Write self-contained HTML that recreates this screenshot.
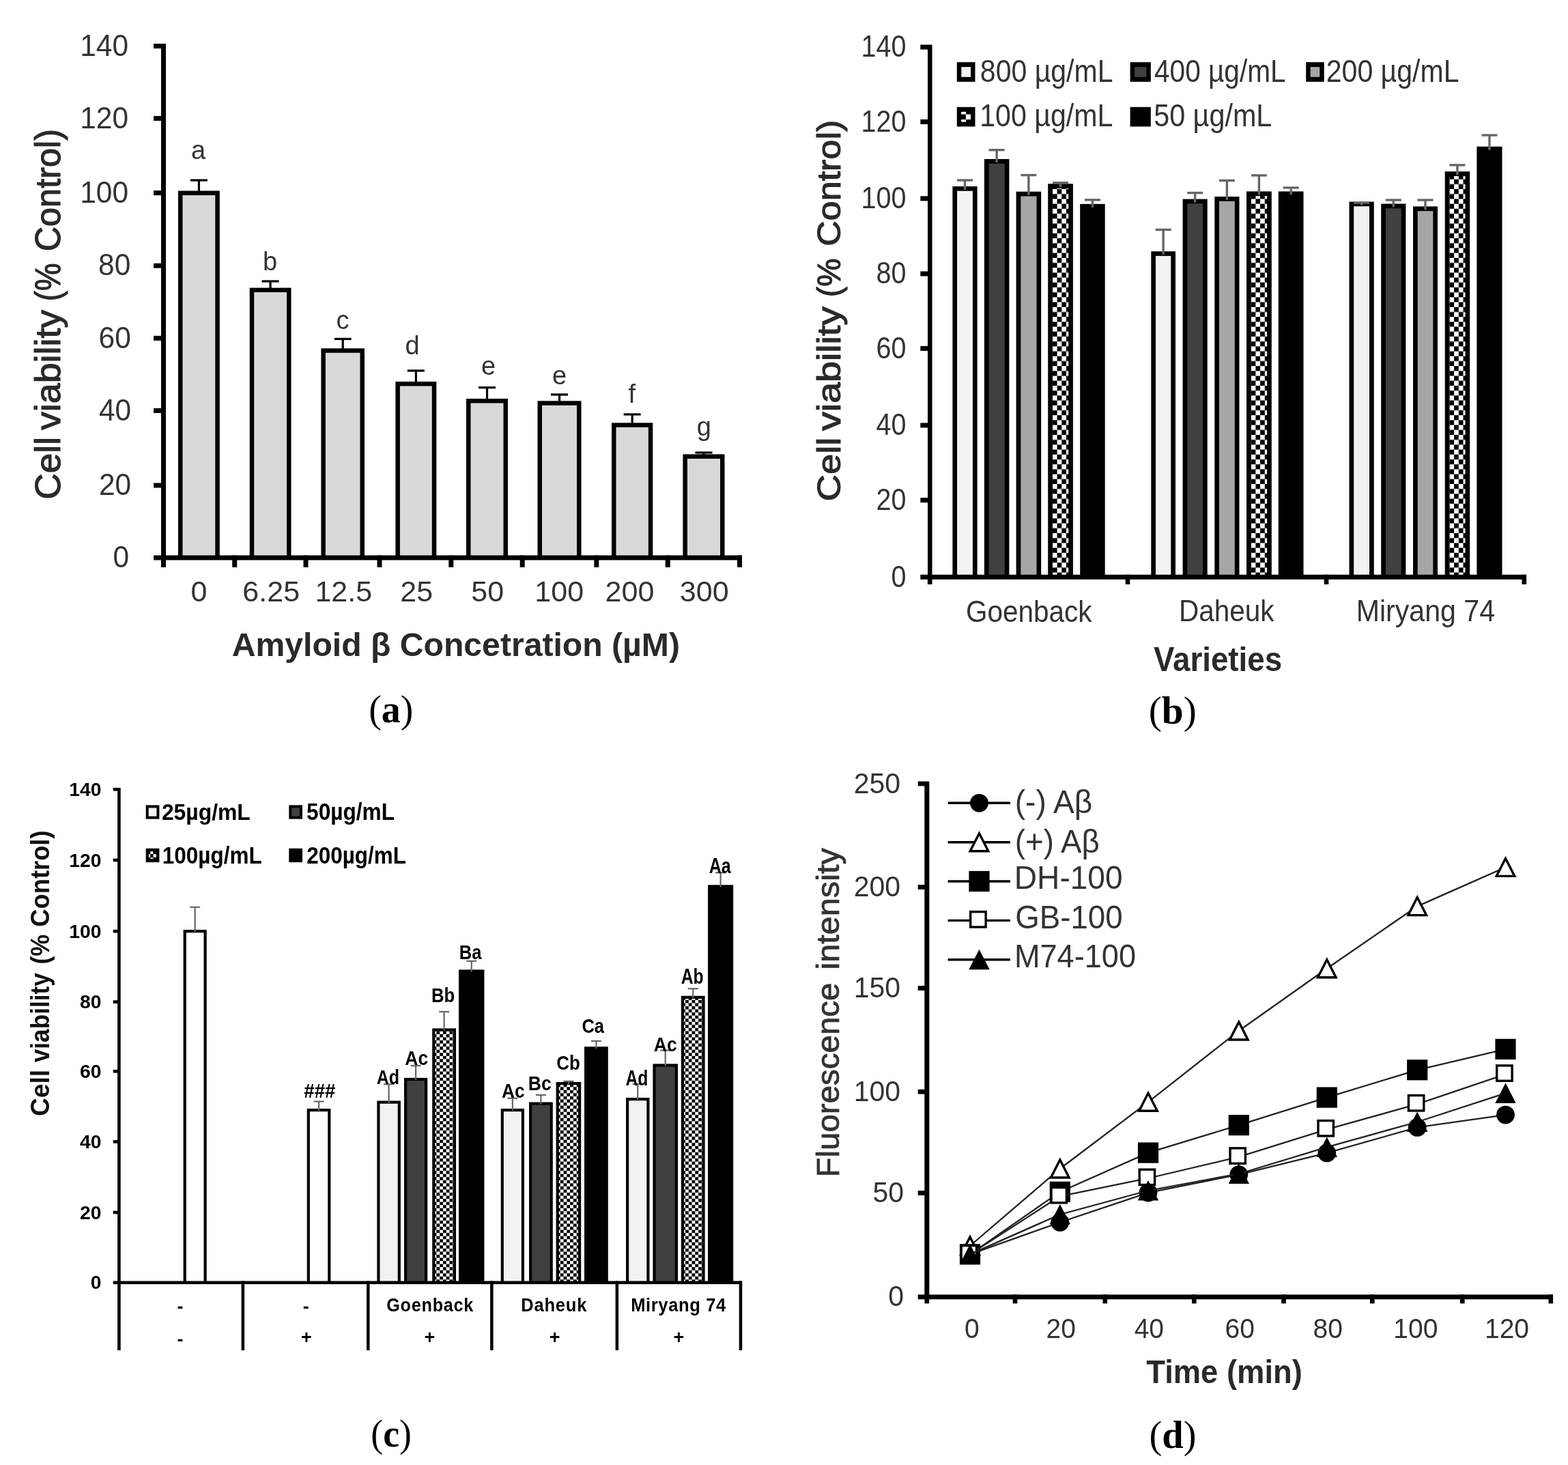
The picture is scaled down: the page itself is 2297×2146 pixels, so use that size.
<!DOCTYPE html>
<html><head><meta charset="utf-8"><title>Figure</title>
<style>
html,body{margin:0;padding:0;background:#fff;}
body{width:2297px;height:2146px;overflow:hidden;}
svg{display:block;}
text{white-space:pre;}
</style></head>
<body>
<svg width="2297" height="2146" viewBox="0 0 2297 2146" role="img" aria-label="Figure with four panels a, b, c, d">
<rect width="2297" height="2146" fill="#fff"/>
<defs><pattern id="ckb" patternUnits="userSpaceOnUse" x="0" y="277" width="13.4" height="14.4"><rect width="13.4" height="14.4" fill="#fff"/><rect x="6.7" y="0" width="6.7" height="7.2" fill="#000"/><rect x="0" y="7.2" width="6.7" height="7.2" fill="#000"/></pattern><pattern id="ckc" patternUnits="userSpaceOnUse" x="0" y="1510.4" width="9.56" height="9.1"><rect width="9.56" height="9.1" fill="#fff"/><rect x="4.78" y="0" width="4.78" height="4.55" fill="#000"/><rect x="0" y="4.55" width="4.78" height="4.55" fill="#000"/></pattern></defs>
<rect x="261.00" y="279.50" width="60.80" height="535.00" fill="#000"/>
<rect x="267.50" y="286.00" width="47.80" height="528.50" fill="#d9d9d9"/>
<line x1="291.40" y1="264.00" x2="291.40" y2="281.50" stroke="#000" stroke-width="3.2"/>
<line x1="278.90" y1="264.00" x2="303.90" y2="264.00" stroke="#000" stroke-width="3.2"/>
<rect x="365.70" y="421.60" width="60.80" height="392.90" fill="#000"/>
<rect x="372.20" y="428.10" width="47.80" height="386.40" fill="#d9d9d9"/>
<line x1="396.10" y1="412.00" x2="396.10" y2="423.60" stroke="#000" stroke-width="3.2"/>
<line x1="383.60" y1="412.00" x2="408.60" y2="412.00" stroke="#000" stroke-width="3.2"/>
<rect x="470.40" y="510.30" width="63.60" height="304.20" fill="#000"/>
<rect x="476.90" y="516.80" width="50.60" height="297.70" fill="#d9d9d9"/>
<line x1="502.20" y1="496.50" x2="502.20" y2="512.30" stroke="#000" stroke-width="3.2"/>
<line x1="489.70" y1="496.50" x2="514.70" y2="496.50" stroke="#000" stroke-width="3.2"/>
<rect x="579.40" y="559.00" width="59.90" height="255.50" fill="#000"/>
<rect x="585.90" y="565.50" width="46.90" height="249.00" fill="#d9d9d9"/>
<line x1="609.35" y1="543.00" x2="609.35" y2="561.00" stroke="#000" stroke-width="3.2"/>
<line x1="596.85" y1="543.00" x2="621.85" y2="543.00" stroke="#000" stroke-width="3.2"/>
<rect x="683.00" y="584.00" width="61.00" height="230.50" fill="#000"/>
<rect x="689.50" y="590.50" width="48.00" height="224.00" fill="#d9d9d9"/>
<line x1="713.50" y1="567.70" x2="713.50" y2="586.00" stroke="#000" stroke-width="3.2"/>
<line x1="701.00" y1="567.70" x2="726.00" y2="567.70" stroke="#000" stroke-width="3.2"/>
<rect x="787.50" y="587.30" width="64.00" height="227.20" fill="#000"/>
<rect x="794.00" y="593.80" width="51.00" height="220.70" fill="#d9d9d9"/>
<line x1="819.50" y1="578.00" x2="819.50" y2="589.30" stroke="#000" stroke-width="3.2"/>
<line x1="807.00" y1="578.00" x2="832.00" y2="578.00" stroke="#000" stroke-width="3.2"/>
<rect x="896.00" y="619.40" width="60.30" height="195.10" fill="#000"/>
<rect x="902.50" y="625.90" width="47.30" height="188.60" fill="#d9d9d9"/>
<line x1="926.15" y1="607.00" x2="926.15" y2="621.40" stroke="#000" stroke-width="3.2"/>
<line x1="913.65" y1="607.00" x2="938.65" y2="607.00" stroke="#000" stroke-width="3.2"/>
<rect x="1000.40" y="665.40" width="61.10" height="149.10" fill="#000"/>
<rect x="1006.90" y="671.90" width="48.10" height="142.60" fill="#d9d9d9"/>
<line x1="1030.95" y1="663.00" x2="1030.95" y2="667.40" stroke="#000" stroke-width="3.2"/>
<line x1="1018.45" y1="663.00" x2="1043.45" y2="663.00" stroke="#000" stroke-width="3.2"/>
<rect x="236.00" y="64.00" width="7.00" height="756.50" fill="#000"/>
<rect x="225.00" y="813.50" width="862.00" height="7.00" fill="#000"/>
<rect x="225.00" y="64.00" width="12.00" height="7.00" fill="#000"/>
<rect x="225.00" y="169.90" width="12.00" height="7.00" fill="#000"/>
<rect x="225.00" y="279.10" width="12.00" height="7.00" fill="#000"/>
<rect x="225.00" y="385.70" width="12.00" height="7.00" fill="#000"/>
<rect x="225.00" y="491.90" width="12.00" height="7.00" fill="#000"/>
<rect x="225.00" y="598.00" width="12.00" height="7.00" fill="#000"/>
<rect x="225.00" y="707.50" width="12.00" height="7.00" fill="#000"/>
<rect x="236.00" y="813.50" width="7.00" height="17.50" fill="#000"/>
<rect x="340.20" y="813.50" width="7.00" height="17.50" fill="#000"/>
<rect x="444.50" y="813.50" width="7.00" height="17.50" fill="#000"/>
<rect x="552.50" y="813.50" width="7.00" height="17.50" fill="#000"/>
<rect x="657.30" y="813.50" width="7.00" height="17.50" fill="#000"/>
<rect x="761.70" y="813.50" width="7.00" height="17.50" fill="#000"/>
<rect x="870.30" y="813.50" width="7.00" height="17.50" fill="#000"/>
<rect x="974.70" y="813.50" width="7.00" height="17.50" fill="#000"/>
<rect x="1080.00" y="813.50" width="7.00" height="17.50" fill="#000"/>
<text transform="matrix(2.1250 0 0 2.2250 117.23 81.65)" font-size="20" style="font-family:'Liberation Sans',sans-serif" fill="#333">140</text>
<text transform="matrix(2.1250 0 0 2.2250 117.23 187.55)" font-size="20" style="font-family:'Liberation Sans',sans-serif" fill="#333">120</text>
<text transform="matrix(2.1250 0 0 2.2250 117.23 296.75)" font-size="20" style="font-family:'Liberation Sans',sans-serif" fill="#333">100</text>
<text transform="matrix(2.1250 0 0 2.2250 144.11 403.35)" font-size="20" style="font-family:'Liberation Sans',sans-serif" fill="#333">80</text>
<text transform="matrix(2.1250 0 0 2.2250 144.51 509.55)" font-size="20" style="font-family:'Liberation Sans',sans-serif" fill="#333">60</text>
<text transform="matrix(2.1250 0 0 2.2250 144.91 615.65)" font-size="20" style="font-family:'Liberation Sans',sans-serif" fill="#333">40</text>
<text transform="matrix(2.1250 0 0 2.2250 144.91 725.15)" font-size="20" style="font-family:'Liberation Sans',sans-serif" fill="#333">20</text>
<text transform="matrix(2.1250 0 0 2.2250 165.50 831.15)" font-size="20" style="font-family:'Liberation Sans',sans-serif" fill="#333">0</text>
<text transform="matrix(2.1500 0 0 2.1500 279.46 880.84)" font-size="20" style="font-family:'Liberation Sans',sans-serif" fill="#333">0</text>
<text transform="matrix(2.1500 0 0 2.1500 355.37 880.84)" font-size="20" style="font-family:'Liberation Sans',sans-serif" fill="#333">6.25</text>
<text transform="matrix(2.1500 0 0 2.1500 461.43 880.84)" font-size="20" style="font-family:'Liberation Sans',sans-serif" fill="#333">12.5</text>
<text transform="matrix(2.1500 0 0 2.1500 586.22 880.84)" font-size="20" style="font-family:'Liberation Sans',sans-serif" fill="#333">25</text>
<text transform="matrix(2.1500 0 0 2.1500 690.33 880.84)" font-size="20" style="font-family:'Liberation Sans',sans-serif" fill="#333">50</text>
<text transform="matrix(2.1500 0 0 2.1500 783.34 880.84)" font-size="20" style="font-family:'Liberation Sans',sans-serif" fill="#333">100</text>
<text transform="matrix(2.1500 0 0 2.1500 886.58 880.84)" font-size="20" style="font-family:'Liberation Sans',sans-serif" fill="#333">200</text>
<text transform="matrix(2.1500 0 0 2.1500 995.80 880.84)" font-size="20" style="font-family:'Liberation Sans',sans-serif" fill="#333">300</text>
<text transform="matrix(1.9000 0 0 1.9000 280.09 233.07)" font-size="20" style="font-family:'Liberation Sans',sans-serif" fill="#333">a</text>
<text transform="matrix(1.9000 0 0 1.9000 385.08 395.87)" font-size="20" style="font-family:'Liberation Sans',sans-serif" fill="#333">b</text>
<text transform="matrix(1.9000 0 0 1.9000 492.42 481.57)" font-size="20" style="font-family:'Liberation Sans',sans-serif" fill="#333">c</text>
<text transform="matrix(1.9000 0 0 1.9000 593.58 519.37)" font-size="20" style="font-family:'Liberation Sans',sans-serif" fill="#333">d</text>
<text transform="matrix(1.9000 0 0 1.9000 704.96 548.57)" font-size="20" style="font-family:'Liberation Sans',sans-serif" fill="#333">e</text>
<text transform="matrix(1.9000 0 0 1.9000 808.96 563.07)" font-size="20" style="font-family:'Liberation Sans',sans-serif" fill="#333">e</text>
<text transform="matrix(1.9000 0 0 1.9000 920.54 590.37)" font-size="20" style="font-family:'Liberation Sans',sans-serif" fill="#333">f</text>
<text transform="matrix(1.9000 0 0 1.9000 1020.79 637.57)" font-size="20" style="font-family:'Liberation Sans',sans-serif" fill="#333">g</text>
<text transform="matrix(2.4082 0 0 2.3623 339.70 961.20)" font-size="20" style="font-family:'Liberation Sans',sans-serif;font-weight:bold" fill="#2a2a2a">Amyloid β Concetration (µM)</text>
<text transform="matrix(0 -2.5652 2.5652 0 87.70 729.20)" font-size="20" style="font-family:'Liberation Sans',sans-serif;stroke:#2a2a2a;stroke-width:0.429px;stroke-linejoin:round" fill="#2a2a2a"><tspan x="-1.04" textLength="35.82" lengthAdjust="spacingAndGlyphs">Cell</tspan> <tspan x="38.64" textLength="68.73" lengthAdjust="spacingAndGlyphs">viability</tspan> <tspan x="112.25" textLength="21.80" lengthAdjust="spacingAndGlyphs">(%</tspan> <tspan x="140.68" textLength="69.91" lengthAdjust="spacingAndGlyphs">Control)</tspan></text>
<text x="540.20" y="1058.30" font-size="57" textLength="65.20" lengthAdjust="spacingAndGlyphs" style="font-family:'Liberation Serif',serif" fill="#000">(<tspan style="font-weight:bold">a</tspan>)</text>
<rect x="1395.40" y="273.00" width="36.20" height="569.80" fill="#000"/>
<rect x="1402.10" y="279.70" width="22.80" height="563.10" fill="#f2f2f2"/>
<line x1="1413.50" y1="264.00" x2="1413.50" y2="278.00" stroke="#666" stroke-width="3.4"/>
<line x1="1402.00" y1="264.00" x2="1425.00" y2="264.00" stroke="#666" stroke-width="3.4"/>
<rect x="1441.90" y="233.00" width="36.50" height="609.80" fill="#000"/>
<rect x="1448.60" y="239.70" width="23.10" height="603.10" fill="#404040"/>
<line x1="1460.15" y1="219.70" x2="1460.15" y2="238.00" stroke="#666" stroke-width="3.4"/>
<line x1="1448.65" y1="219.70" x2="1471.65" y2="219.70" stroke="#666" stroke-width="3.4"/>
<rect x="1488.60" y="280.70" width="36.60" height="562.10" fill="#000"/>
<rect x="1495.30" y="287.40" width="23.20" height="555.40" fill="#a6a6a6"/>
<line x1="1506.90" y1="256.50" x2="1506.90" y2="285.70" stroke="#666" stroke-width="3.4"/>
<line x1="1495.40" y1="256.50" x2="1518.40" y2="256.50" stroke="#666" stroke-width="3.4"/>
<rect x="1535.20" y="269.20" width="36.70" height="573.60" fill="#000"/>
<g transform="translate(1541.90 0)"><rect x="0.00" y="275.90" width="23.30" height="566.90" fill="url(#ckb)"/></g>
<line x1="1553.55" y1="267.70" x2="1553.55" y2="274.20" stroke="#666" stroke-width="3.4"/>
<line x1="1542.05" y1="267.70" x2="1565.05" y2="267.70" stroke="#666" stroke-width="3.4"/>
<rect x="1582.20" y="298.80" width="36.50" height="544.00" fill="#000"/>
<line x1="1600.45" y1="292.80" x2="1600.45" y2="303.80" stroke="#666" stroke-width="3.4"/>
<line x1="1588.95" y1="292.80" x2="1611.95" y2="292.80" stroke="#666" stroke-width="3.4"/>
<rect x="1686.30" y="368.20" width="35.70" height="474.60" fill="#000"/>
<rect x="1693.00" y="374.90" width="22.30" height="467.90" fill="#f2f2f2"/>
<line x1="1704.15" y1="336.50" x2="1704.15" y2="373.20" stroke="#666" stroke-width="3.4"/>
<line x1="1692.65" y1="336.50" x2="1715.65" y2="336.50" stroke="#666" stroke-width="3.4"/>
<rect x="1732.60" y="291.60" width="36.10" height="551.20" fill="#000"/>
<rect x="1739.30" y="298.30" width="22.70" height="544.50" fill="#404040"/>
<line x1="1750.65" y1="282.50" x2="1750.65" y2="296.60" stroke="#666" stroke-width="3.4"/>
<line x1="1739.15" y1="282.50" x2="1762.15" y2="282.50" stroke="#666" stroke-width="3.4"/>
<rect x="1779.30" y="288.00" width="36.20" height="554.80" fill="#000"/>
<rect x="1786.00" y="294.70" width="22.80" height="548.10" fill="#a6a6a6"/>
<line x1="1797.40" y1="264.40" x2="1797.40" y2="293.00" stroke="#666" stroke-width="3.4"/>
<line x1="1785.90" y1="264.40" x2="1808.90" y2="264.40" stroke="#666" stroke-width="3.4"/>
<rect x="1826.00" y="280.40" width="36.80" height="562.40" fill="#000"/>
<g transform="translate(1832.70 0)"><rect x="0.00" y="287.10" width="23.40" height="555.70" fill="url(#ckb)"/></g>
<line x1="1844.40" y1="256.90" x2="1844.40" y2="285.40" stroke="#666" stroke-width="3.4"/>
<line x1="1832.90" y1="256.90" x2="1855.90" y2="256.90" stroke="#666" stroke-width="3.4"/>
<rect x="1872.80" y="280.40" width="36.70" height="562.40" fill="#000"/>
<line x1="1891.15" y1="275.00" x2="1891.15" y2="285.40" stroke="#666" stroke-width="3.4"/>
<line x1="1879.65" y1="275.00" x2="1902.65" y2="275.00" stroke="#666" stroke-width="3.4"/>
<rect x="1976.50" y="295.50" width="36.20" height="547.30" fill="#000"/>
<rect x="1983.20" y="302.20" width="22.80" height="540.60" fill="#f2f2f2"/>
<line x1="1994.60" y1="297.00" x2="1994.60" y2="300.50" stroke="#666" stroke-width="3.4"/>
<line x1="1983.10" y1="297.00" x2="2006.10" y2="297.00" stroke="#666" stroke-width="3.4"/>
<rect x="2023.20" y="298.50" width="36.20" height="544.30" fill="#000"/>
<rect x="2029.90" y="305.20" width="22.80" height="537.60" fill="#404040"/>
<line x1="2041.30" y1="293.00" x2="2041.30" y2="303.50" stroke="#666" stroke-width="3.4"/>
<line x1="2029.80" y1="293.00" x2="2052.80" y2="293.00" stroke="#666" stroke-width="3.4"/>
<rect x="2070.00" y="302.40" width="36.00" height="540.40" fill="#000"/>
<rect x="2076.70" y="309.10" width="22.60" height="533.70" fill="#a6a6a6"/>
<line x1="2088.00" y1="293.00" x2="2088.00" y2="307.40" stroke="#666" stroke-width="3.4"/>
<line x1="2076.50" y1="293.00" x2="2099.50" y2="293.00" stroke="#666" stroke-width="3.4"/>
<rect x="2116.70" y="251.20" width="36.50" height="591.60" fill="#000"/>
<g transform="translate(2123.40 0)"><rect x="0.00" y="257.90" width="23.10" height="584.90" fill="url(#ckb)"/></g>
<line x1="2134.95" y1="241.80" x2="2134.95" y2="256.20" stroke="#666" stroke-width="3.4"/>
<line x1="2123.45" y1="241.80" x2="2146.45" y2="241.80" stroke="#666" stroke-width="3.4"/>
<rect x="2163.40" y="214.70" width="37.10" height="628.10" fill="#000"/>
<line x1="2181.95" y1="198.00" x2="2181.95" y2="219.70" stroke="#666" stroke-width="3.4"/>
<line x1="2170.45" y1="198.00" x2="2193.45" y2="198.00" stroke="#666" stroke-width="3.4"/>
<rect x="1359.00" y="65.50" width="6.50" height="783.30" fill="#000"/>
<rect x="1348.30" y="841.80" width="887.70" height="7.00" fill="#000"/>
<rect x="1348.30" y="65.50" width="11.70" height="7.00" fill="#000"/>
<rect x="1348.30" y="174.90" width="11.70" height="7.00" fill="#000"/>
<rect x="1348.30" y="287.30" width="11.70" height="7.00" fill="#000"/>
<rect x="1348.30" y="397.50" width="11.70" height="7.00" fill="#000"/>
<rect x="1348.30" y="506.90" width="11.70" height="7.00" fill="#000"/>
<rect x="1348.30" y="619.50" width="11.70" height="7.00" fill="#000"/>
<rect x="1348.30" y="729.20" width="11.70" height="7.00" fill="#000"/>
<rect x="1358.90" y="841.80" width="6.60" height="14.20" fill="#000"/>
<rect x="1648.70" y="841.80" width="6.60" height="14.20" fill="#000"/>
<rect x="1939.70" y="841.80" width="6.60" height="14.20" fill="#000"/>
<rect x="2229.50" y="841.80" width="6.60" height="14.20" fill="#000"/>
<text transform="matrix(1.9750 0 0 2.2600 1261.62 83.29)" font-size="20" style="font-family:'Liberation Sans',sans-serif" fill="#333">140</text>
<text transform="matrix(1.9750 0 0 2.2600 1261.62 192.69)" font-size="20" style="font-family:'Liberation Sans',sans-serif" fill="#333">120</text>
<text transform="matrix(1.9750 0 0 2.2600 1261.62 305.09)" font-size="20" style="font-family:'Liberation Sans',sans-serif" fill="#333">100</text>
<text transform="matrix(1.9750 0 0 2.2600 1283.54 415.29)" font-size="20" style="font-family:'Liberation Sans',sans-serif" fill="#333">80</text>
<text transform="matrix(1.9750 0 0 2.2600 1283.54 524.69)" font-size="20" style="font-family:'Liberation Sans',sans-serif" fill="#333">60</text>
<text transform="matrix(1.9750 0 0 2.2600 1283.54 637.29)" font-size="20" style="font-family:'Liberation Sans',sans-serif" fill="#333">40</text>
<text transform="matrix(1.9750 0 0 2.2600 1283.54 746.99)" font-size="20" style="font-family:'Liberation Sans',sans-serif" fill="#333">20</text>
<text transform="matrix(1.9750 0 0 2.2600 1305.46 859.59)" font-size="20" style="font-family:'Liberation Sans',sans-serif" fill="#333">0</text>
<rect x="1401.80" y="91.10" width="26.70" height="28.70" fill="#000"/>
<rect x="1408.30" y="98.10" width="13.70" height="14.70" fill="#f2f2f2"/>
<rect x="1655.60" y="91.10" width="30.20" height="28.70" fill="#000"/>
<rect x="1662.10" y="98.10" width="17.20" height="14.70" fill="#404040"/>
<rect x="1913.20" y="91.10" width="26.50" height="28.70" fill="#000"/>
<rect x="1919.70" y="98.10" width="13.50" height="14.70" fill="#a6a6a6"/>
<rect x="1401.80" y="156.80" width="26.70" height="28.60" fill="#000"/>
<rect x="1408.10" y="163.75" width="7.10" height="3.75" fill="#fff"/>
<rect x="1414.90" y="167.50" width="7.10" height="7.55" fill="#fff"/>
<rect x="1408.10" y="175.05" width="7.10" height="3.55" fill="#fff"/>
<rect x="1655.60" y="156.80" width="30.20" height="28.60" fill="#000"/>
<text transform="matrix(2.0503 0 0 2.3143 1435.86 119.80)" font-size="20" style="font-family:'Liberation Sans',sans-serif" fill="#333">800 µg/mL</text>
<text transform="matrix(2.0298 0 0 2.3143 1690.99 119.80)" font-size="20" style="font-family:'Liberation Sans',sans-serif" fill="#333">400 µg/mL</text>
<text transform="matrix(2.0525 0 0 2.3143 1942.75 119.80)" font-size="20" style="font-family:'Liberation Sans',sans-serif" fill="#333">200 µg/mL</text>
<text transform="matrix(2.0571 0 0 2.3143 1435.21 185.40)" font-size="20" style="font-family:'Liberation Sans',sans-serif" fill="#333">100 µg/mL</text>
<text transform="matrix(2.0680 0 0 2.3143 1690.15 185.40)" font-size="20" style="font-family:'Liberation Sans',sans-serif" fill="#333">50 µg/mL</text>
<text transform="matrix(2.0255 0 0 2.2143 1414.97 910.50)" font-size="20" style="font-family:'Liberation Sans',sans-serif" fill="#333">Goenback</text>
<text transform="matrix(2.0238 0 0 2.1739 1726.96 910.30)" font-size="20" style="font-family:'Liberation Sans',sans-serif" fill="#333">Daheuk</text>
<text transform="matrix(2.0558 0 0 2.1739 1986.71 910.30)" font-size="20" style="font-family:'Liberation Sans',sans-serif" fill="#333">Miryang 74</text>
<text transform="matrix(2.2875 0 0 2.4638 1689.97 983.30)" font-size="20" style="font-family:'Liberation Sans',sans-serif;font-weight:bold" fill="#2a2a2a">Varieties</text>
<text transform="matrix(0 -2.3696 2.3696 0 1231.20 731.60)" font-size="20" style="font-family:'Liberation Sans',sans-serif;stroke:#2a2a2a;stroke-width:0.464px;stroke-linejoin:round" fill="#2a2a2a"><tspan x="-1.15" textLength="39.50" lengthAdjust="spacingAndGlyphs">Cell</tspan> <tspan x="42.51" textLength="76.77" lengthAdjust="spacingAndGlyphs">viability</tspan> <tspan x="125.05" textLength="23.96" lengthAdjust="spacingAndGlyphs">(%</tspan> <tspan x="156.48" textLength="78.12" lengthAdjust="spacingAndGlyphs">Control)</tspan></text>
<text x="1682.70" y="1060.00" font-size="57" textLength="70.10" lengthAdjust="spacingAndGlyphs" style="font-family:'Liberation Serif',serif" fill="#000">(<tspan style="font-weight:bold">b</tspan>)</text>
<rect x="268.60" y="1362.00" width="34.10" height="515.50" fill="#000"/>
<rect x="272.80" y="1366.20" width="25.70" height="511.30" fill="#fff"/>
<line x1="285.65" y1="1328.80" x2="285.65" y2="1365.00" stroke="#666" stroke-width="2.2"/>
<line x1="278.15" y1="1328.80" x2="293.15" y2="1328.80" stroke="#666" stroke-width="2.2"/>
<rect x="449.70" y="1624.00" width="34.70" height="253.50" fill="#000"/>
<rect x="453.90" y="1628.20" width="26.30" height="249.30" fill="#fff"/>
<line x1="467.05" y1="1613.50" x2="467.05" y2="1627.00" stroke="#666" stroke-width="2.2"/>
<line x1="459.55" y1="1613.50" x2="474.55" y2="1613.50" stroke="#666" stroke-width="2.2"/>
<rect x="552.30" y="1612.50" width="34.60" height="265.00" fill="#000"/>
<rect x="556.50" y="1616.70" width="26.20" height="260.80" fill="#f2f2f2"/>
<line x1="569.60" y1="1588.30" x2="569.60" y2="1615.50" stroke="#666" stroke-width="2.2"/>
<line x1="562.10" y1="1588.30" x2="577.10" y2="1588.30" stroke="#666" stroke-width="2.2"/>
<rect x="592.00" y="1578.90" width="34.20" height="298.60" fill="#000"/>
<rect x="596.20" y="1583.10" width="25.80" height="294.40" fill="#404040"/>
<line x1="609.10" y1="1561.10" x2="609.10" y2="1581.90" stroke="#666" stroke-width="2.2"/>
<line x1="601.60" y1="1561.10" x2="616.60" y2="1561.10" stroke="#666" stroke-width="2.2"/>
<rect x="633.20" y="1506.40" width="34.80" height="371.10" fill="#000"/>
<g transform="translate(634.60 0)"><rect x="2.80" y="1510.60" width="26.40" height="366.90" fill="url(#ckc)"/></g>
<line x1="650.60" y1="1482.00" x2="650.60" y2="1509.40" stroke="#666" stroke-width="2.2"/>
<line x1="643.10" y1="1482.00" x2="658.10" y2="1482.00" stroke="#666" stroke-width="2.2"/>
<rect x="672.00" y="1420.40" width="37.40" height="457.10" fill="#000"/>
<line x1="690.70" y1="1407.80" x2="690.70" y2="1423.40" stroke="#666" stroke-width="2.2"/>
<line x1="683.20" y1="1407.80" x2="698.20" y2="1407.80" stroke="#666" stroke-width="2.2"/>
<rect x="733.70" y="1624.00" width="34.30" height="253.50" fill="#000"/>
<rect x="737.90" y="1628.20" width="25.90" height="249.30" fill="#f2f2f2"/>
<line x1="750.85" y1="1608.80" x2="750.85" y2="1627.00" stroke="#666" stroke-width="2.2"/>
<line x1="743.35" y1="1608.80" x2="758.35" y2="1608.80" stroke="#666" stroke-width="2.2"/>
<rect x="775.00" y="1614.50" width="34.80" height="263.00" fill="#000"/>
<rect x="779.20" y="1618.70" width="26.40" height="258.80" fill="#404040"/>
<line x1="792.40" y1="1604.00" x2="792.40" y2="1617.50" stroke="#666" stroke-width="2.2"/>
<line x1="784.90" y1="1604.00" x2="799.90" y2="1604.00" stroke="#666" stroke-width="2.2"/>
<rect x="814.60" y="1585.00" width="36.60" height="292.50" fill="#000"/>
<g transform="translate(816.00 0)"><rect x="2.80" y="1589.20" width="28.20" height="288.30" fill="url(#ckc)"/></g>
<line x1="832.90" y1="1583.90" x2="832.90" y2="1588.00" stroke="#666" stroke-width="2.2"/>
<line x1="825.40" y1="1583.90" x2="840.40" y2="1583.90" stroke="#666" stroke-width="2.2"/>
<rect x="856.00" y="1533.20" width="34.80" height="344.30" fill="#000"/>
<line x1="873.40" y1="1525.00" x2="873.40" y2="1536.20" stroke="#666" stroke-width="2.2"/>
<line x1="865.90" y1="1525.00" x2="880.90" y2="1525.00" stroke="#666" stroke-width="2.2"/>
<rect x="917.00" y="1608.00" width="34.50" height="269.50" fill="#000"/>
<rect x="921.20" y="1612.20" width="26.10" height="265.30" fill="#f2f2f2"/>
<line x1="934.25" y1="1588.00" x2="934.25" y2="1611.00" stroke="#666" stroke-width="2.2"/>
<line x1="926.75" y1="1588.00" x2="941.75" y2="1588.00" stroke="#666" stroke-width="2.2"/>
<rect x="956.40" y="1558.40" width="36.60" height="319.10" fill="#000"/>
<rect x="960.60" y="1562.60" width="28.20" height="314.90" fill="#404040"/>
<line x1="974.70" y1="1538.60" x2="974.70" y2="1561.40" stroke="#666" stroke-width="2.2"/>
<line x1="967.20" y1="1538.60" x2="982.20" y2="1538.60" stroke="#666" stroke-width="2.2"/>
<rect x="997.80" y="1458.80" width="34.80" height="418.70" fill="#000"/>
<g transform="translate(999.20 0)"><rect x="2.80" y="1463.00" width="26.40" height="414.50" fill="url(#ckc)"/></g>
<line x1="1015.20" y1="1448.20" x2="1015.20" y2="1461.80" stroke="#666" stroke-width="2.2"/>
<line x1="1007.70" y1="1448.20" x2="1022.70" y2="1448.20" stroke="#666" stroke-width="2.2"/>
<rect x="1037.00" y="1296.30" width="37.20" height="581.20" fill="#000"/>
<line x1="1055.60" y1="1278.30" x2="1055.60" y2="1299.30" stroke="#666" stroke-width="2.2"/>
<line x1="1048.10" y1="1278.30" x2="1063.10" y2="1278.30" stroke="#666" stroke-width="2.2"/>
<rect x="172.10" y="1154.00" width="4.60" height="727.10" fill="#000"/>
<rect x="165.70" y="1876.50" width="921.30" height="4.60" fill="#000"/>
<rect x="165.70" y="1154.00" width="7.40" height="4.60" fill="#000"/>
<rect x="165.70" y="1257.70" width="7.40" height="4.60" fill="#000"/>
<rect x="165.70" y="1361.80" width="7.40" height="4.60" fill="#000"/>
<rect x="165.70" y="1465.30" width="7.40" height="4.60" fill="#000"/>
<rect x="165.70" y="1567.00" width="7.40" height="4.60" fill="#000"/>
<rect x="165.70" y="1670.10" width="7.40" height="4.60" fill="#000"/>
<rect x="165.70" y="1773.70" width="7.40" height="4.60" fill="#000"/>
<rect x="172.10" y="1876.50" width="4.60" height="101.50" fill="#000"/>
<rect x="353.60" y="1876.50" width="4.50" height="101.50" fill="#000"/>
<rect x="537.00" y="1876.50" width="4.50" height="101.50" fill="#000"/>
<rect x="718.10" y="1876.50" width="4.50" height="101.50" fill="#000"/>
<rect x="901.60" y="1876.50" width="4.50" height="101.50" fill="#000"/>
<rect x="1082.70" y="1876.50" width="4.50" height="101.50" fill="#000"/>
<text transform="matrix(1.4150 0 0 1.3800 101.31 1166.12)" font-size="20" style="font-family:'Liberation Sans',sans-serif;font-weight:bold" fill="#000">140</text>
<text transform="matrix(1.4150 0 0 1.3800 101.31 1269.82)" font-size="20" style="font-family:'Liberation Sans',sans-serif;font-weight:bold" fill="#000">120</text>
<text transform="matrix(1.4150 0 0 1.3800 101.31 1373.92)" font-size="20" style="font-family:'Liberation Sans',sans-serif;font-weight:bold" fill="#000">100</text>
<text transform="matrix(1.4150 0 0 1.3800 117.02 1477.42)" font-size="20" style="font-family:'Liberation Sans',sans-serif;font-weight:bold" fill="#000">80</text>
<text transform="matrix(1.4150 0 0 1.3800 117.02 1579.12)" font-size="20" style="font-family:'Liberation Sans',sans-serif;font-weight:bold" fill="#000">60</text>
<text transform="matrix(1.4150 0 0 1.3800 117.02 1682.22)" font-size="20" style="font-family:'Liberation Sans',sans-serif;font-weight:bold" fill="#000">40</text>
<text transform="matrix(1.4150 0 0 1.3800 117.02 1785.82)" font-size="20" style="font-family:'Liberation Sans',sans-serif;font-weight:bold" fill="#000">20</text>
<text transform="matrix(1.4150 0 0 1.3800 132.73 1888.12)" font-size="20" style="font-family:'Liberation Sans',sans-serif;font-weight:bold" fill="#000">0</text>
<rect x="213.70" y="1179.40" width="19.70" height="20.30" fill="#000"/>
<rect x="217.70" y="1183.40" width="11.70" height="12.30" fill="#f2f2f2"/>
<rect x="423.30" y="1179.40" width="19.70" height="20.30" fill="#000"/>
<rect x="427.30" y="1183.40" width="11.70" height="12.30" fill="#404040"/>
<rect x="213.70" y="1242.80" width="19.70" height="20.30" fill="#000"/>
<rect x="220.20" y="1247.20" width="4.20" height="3.70" fill="#fff"/>
<rect x="217.90" y="1251.30" width="2.30" height="4.50" fill="#fff"/>
<rect x="224.50" y="1251.30" width="4.40" height="4.50" fill="#fff"/>
<rect x="220.20" y="1256.30" width="4.20" height="1.80" fill="#fff"/>
<rect x="423.30" y="1242.80" width="19.70" height="20.30" fill="#000"/>
<text transform="matrix(1.5948 0 0 1.7071 236.88 1201.20)" font-size="20" style="font-family:'Liberation Sans',sans-serif;font-weight:bold" fill="#000">25µg/mL</text>
<text transform="matrix(1.5828 0 0 1.7071 449.05 1201.20)" font-size="20" style="font-family:'Liberation Sans',sans-serif;font-weight:bold" fill="#000">50µg/mL</text>
<text transform="matrix(1.5743 0 0 1.7357 237.81 1264.60)" font-size="20" style="font-family:'Liberation Sans',sans-serif;font-weight:bold" fill="#000">100µg/mL</text>
<text transform="matrix(1.5711 0 0 1.7357 449.30 1264.60)" font-size="20" style="font-family:'Liberation Sans',sans-serif;font-weight:bold" fill="#000">200µg/mL</text>
<text transform="matrix(1.3853 0 0 1.4779 445.28 1607.80)" font-size="20" style="font-family:'Liberation Sans',sans-serif;font-weight:bold" fill="#000">###</text>
<text transform="matrix(1.2500 0 0 1.4855 551.67 1587.70)" font-size="20" style="font-family:'Liberation Sans',sans-serif;font-weight:bold" fill="#000">Ad</text>
<text transform="matrix(1.3197 0 0 1.4565 593.34 1560.10)" font-size="20" style="font-family:'Liberation Sans',sans-serif;font-weight:bold" fill="#000">Ac</text>
<text transform="matrix(1.2816 0 0 1.4638 631.93 1468.20)" font-size="20" style="font-family:'Liberation Sans',sans-serif;font-weight:bold" fill="#000">Bb</text>
<text transform="matrix(1.2787 0 0 1.4565 672.84 1404.60)" font-size="20" style="font-family:'Liberation Sans',sans-serif;font-weight:bold" fill="#000">Ba</text>
<text transform="matrix(1.3115 0 0 1.4565 735.04 1607.80)" font-size="20" style="font-family:'Liberation Sans',sans-serif;font-weight:bold" fill="#000">Ac</text>
<text transform="matrix(1.3263 0 0 1.4565 773.78 1596.50)" font-size="20" style="font-family:'Liberation Sans',sans-serif;font-weight:bold" fill="#000">Bc</text>
<text transform="matrix(1.2920 0 0 1.4855 815.27 1567.30)" font-size="20" style="font-family:'Liberation Sans',sans-serif;font-weight:bold" fill="#000">Cb</text>
<text transform="matrix(1.2771 0 0 1.5145 852.38 1513.20)" font-size="20" style="font-family:'Liberation Sans',sans-serif;font-weight:bold" fill="#000">Ca</text>
<text transform="matrix(1.2339 0 0 1.5362 916.48 1590.00)" font-size="20" style="font-family:'Liberation Sans',sans-serif;font-weight:bold" fill="#000">Ad</text>
<text transform="matrix(1.3238 0 0 1.5072 957.84 1540.10)" font-size="20" style="font-family:'Liberation Sans',sans-serif;font-weight:bold" fill="#000">Ac</text>
<text transform="matrix(1.2372 0 0 1.5290 997.68 1441.30)" font-size="20" style="font-family:'Liberation Sans',sans-serif;font-weight:bold" fill="#000">Ab</text>
<text transform="matrix(1.2540 0 0 1.5290 1038.67 1278.60)" font-size="20" style="font-family:'Liberation Sans',sans-serif;font-weight:bold" fill="#000">Aa</text>
<text transform="matrix(1.2600 0 0 1.4000 566.19 1921.40)" font-size="20" style="font-family:'Liberation Sans',sans-serif;font-weight:bold;letter-spacing:0.608px" fill="#000">Goenback</text>
<text transform="matrix(1.2783 0 0 1.4203 763.24 1921.40)" font-size="20" style="font-family:'Liberation Sans',sans-serif;font-weight:bold;letter-spacing:0.606px" fill="#000">Daheuk</text>
<text transform="matrix(1.2783 0 0 1.4203 924.14 1921.40)" font-size="20" style="font-family:'Liberation Sans',sans-serif;font-weight:bold;letter-spacing:0.479px" fill="#000">Miryang 74</text>
<text transform="matrix(1.3500 0 0 1.3500 259.48 1923.02)" font-size="20" style="font-family:'Liberation Sans',sans-serif;font-weight:bold" fill="#000">-</text>
<text transform="matrix(1.3500 0 0 1.3500 443.68 1923.02)" font-size="20" style="font-family:'Liberation Sans',sans-serif;font-weight:bold" fill="#000">-</text>
<text transform="matrix(1.3500 0 0 1.3500 259.48 1970.62)" font-size="20" style="font-family:'Liberation Sans',sans-serif;font-weight:bold" fill="#000">-</text>
<text transform="matrix(1.3500 0 0 1.3500 440.90 1968.11)" font-size="20" style="font-family:'Liberation Sans',sans-serif;font-weight:bold" fill="#000">+</text>
<text transform="matrix(1.3500 0 0 1.3500 621.50 1968.11)" font-size="20" style="font-family:'Liberation Sans',sans-serif;font-weight:bold" fill="#000">+</text>
<text transform="matrix(1.3500 0 0 1.3500 804.70 1968.11)" font-size="20" style="font-family:'Liberation Sans',sans-serif;font-weight:bold" fill="#000">+</text>
<text transform="matrix(1.3500 0 0 1.3500 986.40 1968.11)" font-size="20" style="font-family:'Liberation Sans',sans-serif;font-weight:bold" fill="#000">+</text>
<text transform="matrix(0 -1.8986 1.8986 0 71.60 1633.60)" font-size="20" style="font-family:'Liberation Sans',sans-serif;font-weight:bold" fill="#111"><tspan x="-0.78" textLength="35.95" lengthAdjust="spacingAndGlyphs">Cell</tspan> <tspan x="40.73" textLength="69.05" lengthAdjust="spacingAndGlyphs">viability</tspan> <tspan x="116.41" textLength="23.06" lengthAdjust="spacingAndGlyphs">(%</tspan> <tspan x="145.35" textLength="74.36" lengthAdjust="spacingAndGlyphs">Control)</tspan></text>
<text x="543.30" y="2119.00" font-size="57" textLength="59.50" lengthAdjust="spacingAndGlyphs" style="font-family:'Liberation Serif',serif" fill="#000">(<tspan style="font-weight:bold">c</tspan>)</text>
<polyline points="1421.0,1837.4 1552.8,1790.5 1682.0,1747.1 1814.8,1720.6 1943.8,1688.9 2076.2,1651.4 2205.5,1633.1" fill="none" stroke="#222" stroke-width="2.3"/>
<circle cx="1421.0" cy="1837.4" r="13.4" fill="#000"/>
<circle cx="1552.8" cy="1790.5" r="13.4" fill="#000"/>
<circle cx="1682.0" cy="1747.1" r="13.4" fill="#000"/>
<circle cx="1814.8" cy="1720.6" r="13.4" fill="#000"/>
<circle cx="1943.8" cy="1688.9" r="13.4" fill="#000"/>
<circle cx="2076.2" cy="1651.4" r="13.4" fill="#000"/>
<circle cx="2205.5" cy="1633.1" r="13.4" fill="#000"/>
<polyline points="1421.0,1825.0 1552.8,1712.0 1682.0,1614.3 1814.8,1510.0 1943.8,1418.7 2076.2,1327.6 2205.5,1270.4" fill="none" stroke="#222" stroke-width="2.3"/>
<path d="M1421.0 1812.0 L1434.3 1838.0 L1407.7 1838.0 Z" fill="#fff" stroke="#000" stroke-width="3.4" stroke-linejoin="miter"/>
<path d="M1552.8 1699.0 L1566.1 1725.0 L1539.5 1725.0 Z" fill="#fff" stroke="#000" stroke-width="3.4" stroke-linejoin="miter"/>
<path d="M1682.0 1601.3 L1695.3 1627.3 L1668.7 1627.3 Z" fill="#fff" stroke="#000" stroke-width="3.4" stroke-linejoin="miter"/>
<path d="M1814.8 1497.0 L1828.1 1523.0 L1801.5 1523.0 Z" fill="#fff" stroke="#000" stroke-width="3.4" stroke-linejoin="miter"/>
<path d="M1943.8 1405.7 L1957.1 1431.7 L1930.5 1431.7 Z" fill="#fff" stroke="#000" stroke-width="3.4" stroke-linejoin="miter"/>
<path d="M2076.2 1314.6 L2089.5 1340.6 L2062.9 1340.6 Z" fill="#fff" stroke="#000" stroke-width="3.4" stroke-linejoin="miter"/>
<path d="M2205.5 1257.4 L2218.8 1283.4 L2192.2 1283.4 Z" fill="#fff" stroke="#000" stroke-width="3.4" stroke-linejoin="miter"/>
<polyline points="1421.0,1837.4 1552.8,1745.9 1682.0,1688.6 1814.8,1648.2 1943.8,1607.6 2076.2,1567.3 2205.5,1536.9" fill="none" stroke="#222" stroke-width="2.3"/>
<rect x="1405.90" y="1822.30" width="30.20" height="30.20" fill="#000"/>
<rect x="1537.70" y="1730.80" width="30.20" height="30.20" fill="#000"/>
<rect x="1666.90" y="1673.50" width="30.20" height="30.20" fill="#000"/>
<rect x="1799.70" y="1633.10" width="30.20" height="30.20" fill="#000"/>
<rect x="1928.70" y="1592.50" width="30.20" height="30.20" fill="#000"/>
<rect x="2061.10" y="1552.20" width="30.20" height="30.20" fill="#000"/>
<rect x="2190.40" y="1521.80" width="30.20" height="30.20" fill="#000"/>
<polyline points="1421.0,1837.4 1552.8,1752.3 1682.0,1726.0 1814.8,1694.7 1943.8,1654.4 2076.2,1617.4 2205.5,1573.7" fill="none" stroke="#222" stroke-width="2.3"/>
<rect x="1408.2" y="1824.6" width="22.4" height="22.4" fill="#fff" stroke="#000" stroke-width="3.4"/>
<rect x="1540.0" y="1739.5" width="22.4" height="22.4" fill="#fff" stroke="#000" stroke-width="3.4"/>
<rect x="1669.2" y="1713.2" width="22.4" height="22.4" fill="#fff" stroke="#000" stroke-width="3.4"/>
<rect x="1802.0" y="1681.9" width="22.4" height="22.4" fill="#fff" stroke="#000" stroke-width="3.4"/>
<rect x="1931.0" y="1641.6" width="22.4" height="22.4" fill="#fff" stroke="#000" stroke-width="3.4"/>
<rect x="2063.4" y="1604.6" width="22.4" height="22.4" fill="#fff" stroke="#000" stroke-width="3.4"/>
<rect x="2192.7" y="1560.9" width="22.4" height="22.4" fill="#fff" stroke="#000" stroke-width="3.4"/>
<polyline points="1421.0,1837.4 1552.8,1779.0 1682.0,1744.0 1814.8,1719.5 1943.8,1680.4 2076.2,1643.5 2205.5,1601.3" fill="none" stroke="#222" stroke-width="2.3"/>
<path d="M1421.0 1822.4 L1436.2 1852.0 L1405.8 1852.0 Z" fill="#000"/>
<path d="M1552.8 1764.0 L1568.0 1793.6 L1537.6 1793.6 Z" fill="#000"/>
<path d="M1682.0 1729.0 L1697.2 1758.6 L1666.8 1758.6 Z" fill="#000"/>
<path d="M1814.8 1704.5 L1830.0 1734.1 L1799.6 1734.1 Z" fill="#000"/>
<path d="M1943.8 1665.4 L1959.0 1695.0 L1928.6 1695.0 Z" fill="#000"/>
<path d="M2076.2 1628.5 L2091.4 1658.1 L2061.0 1658.1 Z" fill="#000"/>
<path d="M2205.5 1586.3 L2220.7 1615.9 L2190.3 1615.9 Z" fill="#000"/>
<rect x="1354.30" y="1144.70" width="7.00" height="758.60" fill="#000"/>
<rect x="1344.70" y="1896.40" width="930.30" height="6.90" fill="#000"/>
<rect x="1344.70" y="1144.60" width="10.60" height="6.80" fill="#000"/>
<rect x="1344.70" y="1296.10" width="10.60" height="6.80" fill="#000"/>
<rect x="1344.70" y="1444.10" width="10.60" height="6.80" fill="#000"/>
<rect x="1344.70" y="1595.80" width="10.60" height="6.80" fill="#000"/>
<rect x="1344.70" y="1744.20" width="10.60" height="6.80" fill="#000"/>
<rect x="1354.50" y="1896.40" width="6.60" height="13.00" fill="#000"/>
<rect x="1483.70" y="1896.40" width="6.60" height="13.00" fill="#000"/>
<rect x="1615.50" y="1896.40" width="6.60" height="13.00" fill="#000"/>
<rect x="1746.00" y="1896.40" width="6.60" height="13.00" fill="#000"/>
<rect x="1877.20" y="1896.40" width="6.60" height="13.00" fill="#000"/>
<rect x="2007.00" y="1896.40" width="6.60" height="13.00" fill="#000"/>
<rect x="2139.00" y="1896.40" width="6.60" height="13.00" fill="#000"/>
<rect x="2268.50" y="1896.40" width="6.60" height="13.00" fill="#000"/>
<text transform="matrix(2.0500 0 0 2.1600 1250.67 1161.60)" font-size="20" style="font-family:'Liberation Sans',sans-serif" fill="#333">250</text>
<text transform="matrix(2.0500 0 0 2.1600 1250.67 1313.10)" font-size="20" style="font-family:'Liberation Sans',sans-serif" fill="#333">200</text>
<text transform="matrix(2.0500 0 0 2.1600 1250.67 1461.10)" font-size="20" style="font-family:'Liberation Sans',sans-serif" fill="#333">150</text>
<text transform="matrix(2.0500 0 0 2.1600 1250.67 1612.80)" font-size="20" style="font-family:'Liberation Sans',sans-serif" fill="#333">100</text>
<text transform="matrix(2.0500 0 0 2.1600 1278.52 1761.20)" font-size="20" style="font-family:'Liberation Sans',sans-serif" fill="#333">50</text>
<text transform="matrix(2.0500 0 0 2.1600 1301.28 1913.40)" font-size="20" style="font-family:'Liberation Sans',sans-serif" fill="#333">0</text>
<text transform="matrix(1.9500 0 0 2.0750 1413.08 1959.92)" font-size="20" style="font-family:'Liberation Sans',sans-serif" fill="#333">0</text>
<text transform="matrix(1.9500 0 0 2.0750 1532.46 1959.92)" font-size="20" style="font-family:'Liberation Sans',sans-serif" fill="#333">20</text>
<text transform="matrix(1.9500 0 0 2.0750 1661.65 1959.92)" font-size="20" style="font-family:'Liberation Sans',sans-serif" fill="#333">40</text>
<text transform="matrix(1.9500 0 0 2.0750 1794.56 1959.92)" font-size="20" style="font-family:'Liberation Sans',sans-serif" fill="#333">60</text>
<text transform="matrix(1.9500 0 0 2.0750 1923.46 1959.92)" font-size="20" style="font-family:'Liberation Sans',sans-serif" fill="#333">80</text>
<text transform="matrix(1.9500 0 0 2.0750 2041.35 1959.92)" font-size="20" style="font-family:'Liberation Sans',sans-serif" fill="#333">100</text>
<text transform="matrix(1.9500 0 0 2.0750 2174.95 1959.92)" font-size="20" style="font-family:'Liberation Sans',sans-serif" fill="#333">120</text>
<line x1="1388.60" y1="1176.30" x2="1479.90" y2="1176.30" stroke="#000" stroke-width="3.4"/>
<circle cx="1434.5" cy="1176.3" r="13.4" fill="#000"/>
<line x1="1388.60" y1="1233.70" x2="1479.90" y2="1233.70" stroke="#000" stroke-width="3.4"/>
<path d="M1434.5 1220.7 L1447.8 1246.7 L1421.2 1246.7 Z" fill="#fff" stroke="#000" stroke-width="3.4" stroke-linejoin="miter"/>
<line x1="1388.60" y1="1291.00" x2="1479.90" y2="1291.00" stroke="#000" stroke-width="3.4"/>
<rect x="1419.40" y="1275.90" width="30.20" height="30.20" fill="#000"/>
<line x1="1388.60" y1="1348.40" x2="1479.90" y2="1348.40" stroke="#000" stroke-width="3.4"/>
<rect x="1421.7" y="1335.6" width="22.4" height="22.4" fill="#fff" stroke="#000" stroke-width="3.4"/>
<line x1="1388.60" y1="1405.70" x2="1479.90" y2="1405.70" stroke="#000" stroke-width="3.4"/>
<path d="M1434.5 1390.7 L1449.7 1420.3 L1419.3 1420.3 Z" fill="#000"/>
<text transform="matrix(2.3066 0 0 2.3768 1486.73 1191.40)" font-size="20" style="font-family:'Liberation Sans',sans-serif" fill="#333">(-) Aβ</text>
<text transform="matrix(2.2849 0 0 2.3913 1486.76 1248.60)" font-size="20" style="font-family:'Liberation Sans',sans-serif" fill="#333">(+) Aβ</text>
<text transform="matrix(2.3048 0 0 2.4058 1485.81 1302.40)" font-size="20" style="font-family:'Liberation Sans',sans-serif" fill="#333">DH-100</text>
<text transform="matrix(2.2842 0 0 2.3986 1487.22 1359.70)" font-size="20" style="font-family:'Liberation Sans',sans-serif" fill="#333">GB-100</text>
<text transform="matrix(2.2572 0 0 2.3913 1485.89 1417.00)" font-size="20" style="font-family:'Liberation Sans',sans-serif" fill="#333">M74-100</text>
<text transform="matrix(2.2691 0 0 2.3986 1679.25 2025.50)" font-size="20" style="font-family:'Liberation Sans',sans-serif;font-weight:bold" fill="#2a2a2a">Time (min)</text>
<text transform="matrix(0 -2.3448 2.3448 0 1229.00 1720.70)" font-size="20" style="font-family:'Liberation Sans',sans-serif;stroke:#333;stroke-width:0.341px;stroke-linejoin:round" fill="#333"><tspan x="-1.62" textLength="121.52" lengthAdjust="spacingAndGlyphs">Fluorescence</tspan> <tspan x="128.00" textLength="76.08" lengthAdjust="spacingAndGlyphs">intensity</tspan></text>
<text x="1683.60" y="2120.60" font-size="57" textLength="68.90" lengthAdjust="spacingAndGlyphs" style="font-family:'Liberation Serif',serif" fill="#000">(<tspan style="font-weight:bold">d</tspan>)</text>
</svg>
</body></html>
